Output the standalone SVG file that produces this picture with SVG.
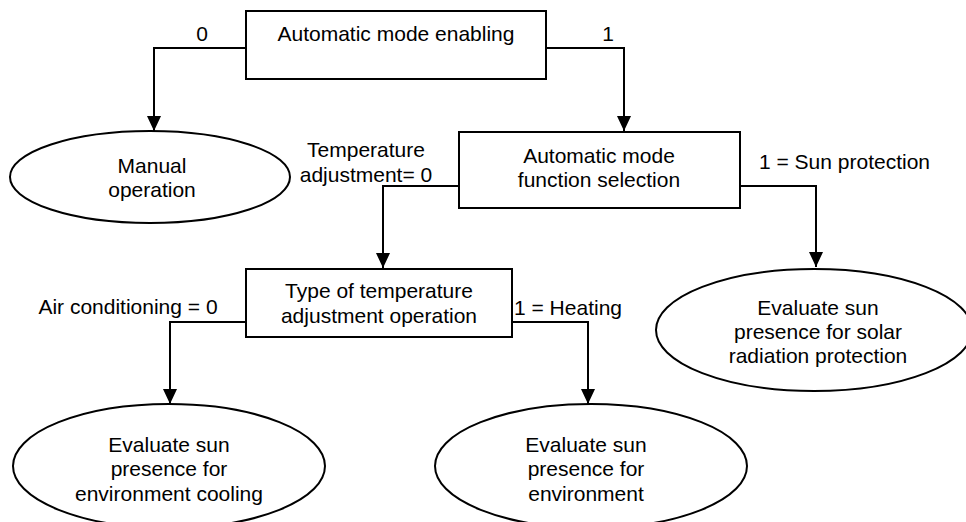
<svg xmlns="http://www.w3.org/2000/svg" width="966" height="522" viewBox="0 0 966 522">
<style>
.shape{fill:#fff;stroke:#000;stroke-width:2}
.line{fill:none;stroke:#000;stroke-width:2}
text{font-family:"Liberation Sans",Arial,sans-serif;font-size:21px;fill:#000}
.c{text-anchor:middle}
</style>
<defs>
<marker id="arr" viewBox="0 0 15 14" refX="15" refY="7" markerWidth="15" markerHeight="14" markerUnits="userSpaceOnUse" orient="auto">
<path d="M0,0 L15,7 L0,14 Z" fill="#000"/>
</marker>
<clipPath id="clipBottom"><rect x="0" y="0" width="966" height="505"/></clipPath>
</defs>
<rect width="966" height="522" fill="#fff"/>

<g id="connectors">
<polyline class="line" points="247,48 154,48 154,131" marker-end="url(#arr)"/>
<polyline class="line" points="545,48 624,48 624,131" marker-end="url(#arr)"/>
<polyline class="line" points="460,186 383,186 383,268" marker-end="url(#arr)"/>
<polyline class="line" points="739,186 816,186 816,267" marker-end="url(#arr)"/>
<polyline class="line" points="247,322 170,322 170,404" marker-end="url(#arr)"/>
<polyline class="line" points="511,322 588,322 588,404" marker-end="url(#arr)"/>
<text x="202" y="40.5" class="c">0</text>
<text x="608" y="40.5" class="c">1</text>
<text x="366" y="156.5" class="c">Temperature</text>
<text x="366" y="181.5" class="c">adjustment= 0</text>
<text x="759" y="168.5">1 = Sun protection</text>
<text x="128" y="314" class="c">Air conditioning = 0</text>
<text x="514" y="315">1 = Heating</text>
</g>

<g id="auto-enable">
<rect class="shape" x="246" y="11" width="300" height="68"/>
<text x="396" y="41" class="c">Automatic mode enabling</text>
</g>

<g id="manual">
<ellipse class="shape" cx="150" cy="177" rx="140" ry="46"/>
<text x="152" y="173" class="c">Manual</text>
<text x="152" y="197" class="c">operation</text>
</g>

<g id="function-selection">
<rect class="shape" x="459" y="132" width="281" height="76"/>
<text x="599" y="163" class="c">Automatic mode</text>
<text x="599" y="187" class="c">function selection</text>
</g>

<g id="temp-type">
<rect class="shape" x="246" y="269" width="266" height="68"/>
<text x="379" y="298" class="c">Type of temperature</text>
<text x="379" y="323" class="c">adjustment operation</text>
</g>

<g id="solar">
<ellipse class="shape" cx="814" cy="330" rx="158" ry="61"/>
<text x="818" y="315" class="c">Evaluate sun</text>
<text x="818" y="339" class="c">presence for solar</text>
<text x="818" y="363" class="c">radiation protection</text>
</g>

<g id="cooling">
<ellipse class="shape" cx="169" cy="466" rx="156" ry="62"/>
<g clip-path="url(#clipBottom)">
<text x="169" y="451.5" class="c">Evaluate sun</text>
<text x="169" y="476" class="c">presence for</text>
<text x="169" y="501" class="c">environment cooling</text>
</g>
</g>

<g id="heating">
<ellipse class="shape" cx="591" cy="466" rx="156" ry="62"/>
<text x="586" y="451.5" class="c">Evaluate sun</text>
<text x="586" y="476" class="c">presence for</text>
<text x="586" y="501" class="c">environment</text>
</g>
</svg>
